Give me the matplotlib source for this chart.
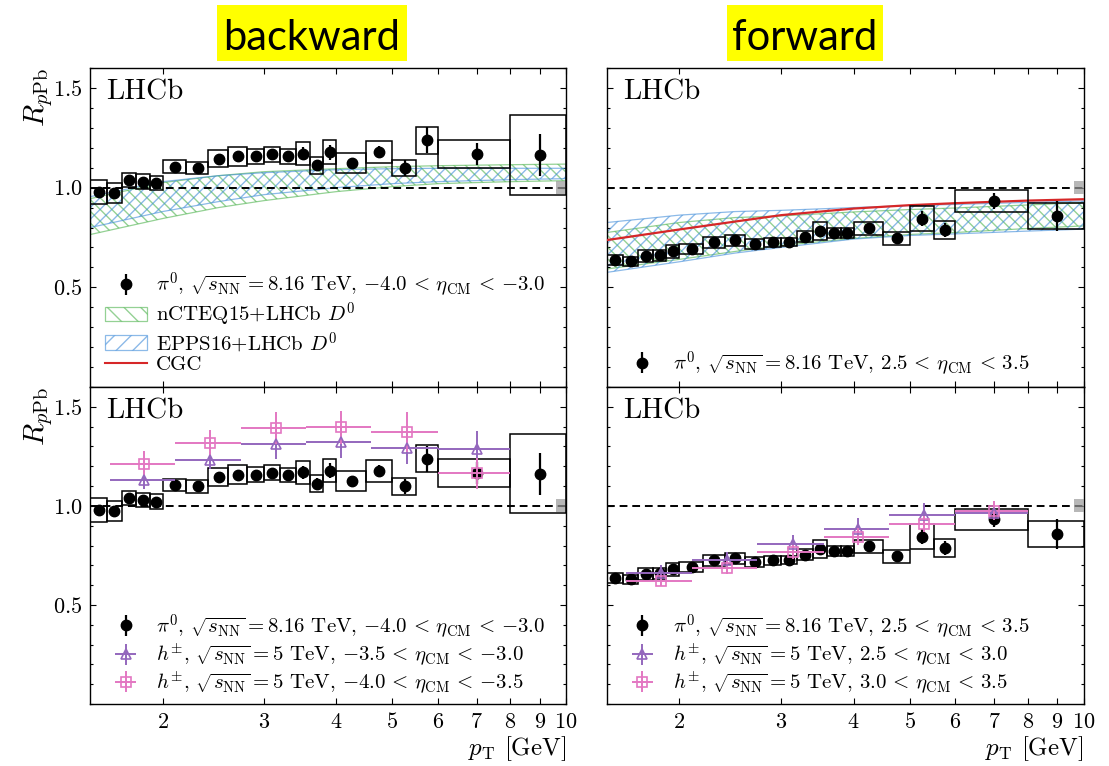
import matplotlib
matplotlib.use("Agg")
import matplotlib.pyplot as plt
from matplotlib.patches import Rectangle, Patch
from matplotlib.lines import Line2D
from matplotlib.collections import LineCollection
from matplotlib.transforms import IdentityTransform
import numpy as np

plt.rcParams['mathtext.fontset'] = 'cm'
plt.rcParams['font.family'] = ['cmr10', 'DejaVu Serif']
plt.rcParams['axes.unicode_minus'] = False
plt.rcParams['axes.formatter.use_mathtext'] = True

# ---------------- data ----------------
edges = [1.5, 1.6, 1.7, 1.8, 1.9, 2.0, 2.2, 2.4, 2.6, 2.8, 3.0, 3.2, 3.4, 3.6, 3.8,
         4.0, 4.5, 5.0, 5.5, 6.0, 8.0, 10.0]
pt = [1.55, 1.65, 1.75, 1.85, 1.95, 2.1, 2.3, 2.5, 2.7, 2.9, 3.1, 3.3, 3.5, 3.7, 3.9,
      4.25, 4.75, 5.25, 5.75, 7.0, 9.0]

bwd_val = [0.98, 0.975, 1.038, 1.03, 1.022, 1.105, 1.098, 1.145, 1.158, 1.158, 1.167,
           1.157, 1.17, 1.112, 1.178, 1.125, 1.178, 1.098, 1.237, 1.167, 1.162]
bwd_stat = [0.01, 0.01, 0.01, 0.01, 0.01, 0.01, 0.01, 0.01, 0.012, 0.012, 0.015,
            0.022, 0.032, 0.028, 0.038, 0.025, 0.03, 0.04, 0.065, 0.055, 0.105]
bwd_syst = [0.06, 0.05, 0.035, 0.036, 0.036, 0.032, 0.031, 0.044, 0.047, 0.037, 0.038,
            0.036, 0.058, 0.042, 0.06, 0.05, 0.056, 0.042, 0.068, 0.07, 0.2]

fwd_val = [0.635, 0.63, 0.657, 0.66, 0.68, 0.693, 0.725, 0.735, 0.717, 0.725, 0.727,
           0.753, 0.783, 0.773, 0.773, 0.797, 0.745, 0.845, 0.787, 0.932, 0.858]
fwd_stat = [0.008, 0.008, 0.008, 0.008, 0.008, 0.008, 0.008, 0.008, 0.008, 0.008, 0.01,
            0.01, 0.012, 0.012, 0.012, 0.015, 0.02, 0.038, 0.035, 0.04, 0.075]
fwd_syst = [0.025, 0.023, 0.031, 0.027, 0.034, 0.025, 0.029, 0.029, 0.025, 0.023, 0.021,
            0.027, 0.047, 0.026, 0.026, 0.033, 0.033, 0.063, 0.044, 0.054, 0.065]

norm_unc = 0.033
norm_x0 = 9.6

# charged hadrons (5 TeV)
h_edges = [1.62, 2.1, 2.73, 3.55, 4.6, 6.0, 8.0]
h_pt = [1.86, 2.415, 3.14, 4.075, 5.3, 7.0]
hb1_val = [1.131, 1.229, 1.311, 1.32, 1.291, 1.288]   # -3.5 < eta < -3.0
hb1_err = [0.046, 0.045, 0.076, 0.078, 0.08, 0.088]
hb2_val = [1.212, 1.316, 1.392, 1.397, 1.372, 1.165]  # -4.0 < eta < -3.5
hb2_err = [0.063, 0.069, 0.082, 0.084, 0.10, 0.078]
hf1_val = [0.663, 0.727, 0.806, 0.882, 0.956, 0.966]  # 2.5 < eta < 3.0
hf1_err = [0.038, 0.04, 0.046, 0.055, 0.057, 0.03]
hf2_val = [0.62, 0.689, 0.768, 0.845, 0.909, 0.976]   # 3.0 < eta < 3.5
hf2_err = [0.025, 0.031, 0.034, 0.042, 0.042, 0.049]

# theory bands
th_pt = [1.5, 2.0, 2.5, 3.0, 4.0, 5.0, 6.0, 8.0, 10.0]
bwd_ncteq_lo = [0.765, 0.845, 0.9, 0.935, 0.98, 1.005, 1.02, 1.03, 1.035]
bwd_ncteq_hi = [0.945, 1.025, 1.06, 1.08, 1.095, 1.105, 1.11, 1.115, 1.118]
bwd_epps_lo = [0.80, 0.88, 0.93, 0.965, 1.0, 1.02, 1.03, 1.04, 1.045]
bwd_epps_hi = [0.955, 1.03, 1.06, 1.075, 1.09, 1.095, 1.097, 1.097, 1.097]
fwd_ncteq_lo = [0.592, 0.64, 0.68, 0.71, 0.745, 0.765, 0.775, 0.795, 0.808]
fwd_ncteq_hi = [0.775, 0.825, 0.85, 0.858, 0.878, 0.89, 0.898, 0.913, 0.925]
fwd_epps_lo = [0.575, 0.628, 0.672, 0.70, 0.742, 0.76, 0.768, 0.782, 0.792]
fwd_epps_hi = [0.825, 0.862, 0.88, 0.886, 0.90, 0.91, 0.916, 0.926, 0.933]
fwd_cgc = [0.737, 0.79, 0.83, 0.862, 0.895, 0.912, 0.922, 0.935, 0.942]

xticks = [2, 3, 4, 5, 6, 7, 8, 9, 10]
yticks = [0.5, 1.0, 1.5]

GREEN = (0.30, 0.70, 0.30, 0.6)
BLUE = (0.25, 0.55, 0.85, 0.6)
RED = '#d62728'
PURPLE = '#9467bd'
PINK = '#e377c2'

lbl_bwd = r'$\pi^0$, $\sqrt{s_{\rm NN}}=8.16$ TeV, ${-4.0}\,<\,\eta_{\rm CM}\,<\,{-3.0}$'
lbl_fwd = r'$\pi^0$, $\sqrt{s_{\rm NN}}=8.16$ TeV, $2.5\,<\,\eta_{\rm CM}\,<\,3.5$'
lbl_hb1 = r'$h^{\pm}$, $\sqrt{s_{\rm NN}}=5$ TeV, ${-3.5}\,<\,\eta_{\rm CM}\,<\,{-3.0}$'
lbl_hb2 = r'$h^{\pm}$, $\sqrt{s_{\rm NN}}=5$ TeV, ${-4.0}\,<\,\eta_{\rm CM}\,<\,{-3.5}$'
lbl_hf1 = r'$h^{\pm}$, $\sqrt{s_{\rm NN}}=5$ TeV, $2.5\,<\,\eta_{\rm CM}\,<\,3.0$'
lbl_hf2 = r'$h^{\pm}$, $\sqrt{s_{\rm NN}}=5$ TeV, $3.0\,<\,\eta_{\rm CM}\,<\,3.5$'

fig = plt.figure(figsize=(11.09, 7.66), dpi=100)
axes = {
    'tl': fig.add_axes([0.0816, 0.4948, 0.4288, 0.4164]),
    'tr': fig.add_axes([0.5473, 0.4948, 0.4300, 0.4164]),
    'bl': fig.add_axes([0.0816, 0.0809, 0.4288, 0.4139]),
    'br': fig.add_axes([0.5473, 0.0809, 0.4300, 0.4139]),
}

FS = 15


def style(ax, left, bottom):
    ax.set_xscale('log')
    ax.set_xlim(1.5, 10)
    ax.set_ylim(0, 1.6)
    ax.set_xticks(xticks)
    ax.xaxis.set_minor_locator(matplotlib.ticker.NullLocator())
    ax.set_yticks(yticks)
    ax.yaxis.set_minor_locator(matplotlib.ticker.MultipleLocator(0.1))
    if bottom:
        ax.set_xticklabels(['$%d$' % t for t in xticks], fontsize=16)
        ax.set_xlabel(r'$p_{\rm T}$ [GeV]', fontsize=18, loc='right', labelpad=1)
    else:
        ax.set_xticklabels([])
    if left:
        ax.set_yticklabels(['$%.1f$' % t for t in yticks], fontsize=16)
        ax.set_ylabel(r'$R_{p{\rm Pb}}$', fontsize=21, loc='top', labelpad=-2)
    else:
        ax.set_yticklabels([])
    ax.tick_params(which='both', direction='in', top=True, right=True)
    ax.tick_params(which='major', length=4.5, width=0.8, pad=6)
    ax.tick_params(which='minor', length=2.5, width=0.8)
    for s in ax.spines.values():
        s.set_linewidth(1.0)
    ax.axhline(1.0, color='k', ls='--', lw=1.4, dashes=(4, 2.5), zorder=3)
    ax.add_patch(Rectangle((norm_x0, 1 - norm_unc), 10 - norm_x0, 2 * norm_unc,
                           facecolor='0.6', edgecolor='none', alpha=0.7, zorder=4))
    ax.text(0.033, 0.965, 'LHCb', transform=ax.transAxes, fontsize=21,
            ha='left', va='top')


def pi0(ax, val, stat, syst):
    for i in range(len(val)):
        ax.add_patch(Rectangle((edges[i], val[i] - syst[i]), edges[i + 1] - edges[i],
                               2 * syst[i], facecolor='none', edgecolor='k',
                               lw=1.1, zorder=5))
    return ax.errorbar(pt, val, yerr=stat, fmt='o', color='k', ms=7.5,
                       elinewidth=1.6, capsize=0, zorder=6)


def hatched(ax, lo, hi, color, direction, spacing=11.7):
    poly = ax.fill_between(th_pt, lo, hi, facecolor='none', edgecolor=color,
                           lw=0.9, zorder=2)
    x0, y0, x1, y1 = ax.bbox.extents
    segs = []
    if direction == '/':
        c = y0 - x1
        while c <= y1 - x0:
            segs.append([(x0, x0 + c), (x1, x1 + c)])
            c += spacing
    else:
        c = y0 + x0
        while c <= y1 + x1:
            segs.append([(x0, c - x0), (x1, c - x1)])
            c += spacing
    lc = LineCollection(segs, colors=[color], linewidths=1.0,
                        transform=IdentityTransform(), zorder=2)
    ax.add_collection(lc, autolim=False)
    lc.set_clip_path(poly.get_paths()[0], ax.transData)


def bands(ax, nlo, nhi, elo, ehi):
    hatched(ax, nlo, nhi, GREEN, '\\')
    hatched(ax, elo, ehi, BLUE, '/')


def hpm(ax, val, err, color, marker):
    xlo = [h_pt[i] - h_edges[i] for i in range(len(h_pt))]
    xhi = [h_edges[i + 1] - h_pt[i] for i in range(len(h_pt))]
    return ax.errorbar(h_pt, val, xerr=[xlo, xhi], yerr=err, fmt=marker, color=color,
                       mfc='none', mec=color, ms=7, mew=1.2, elinewidth=1.4,
                       capsize=0, zorder=7)


leg_kw = dict(frameon=False, fontsize=FS, loc='lower left', handlelength=2.0,
              handletextpad=0.45, labelspacing=0.05, borderaxespad=0.3)

# top-left
ax = axes['tl']
style(ax, True, False)
bands(ax, bwd_ncteq_lo, bwd_ncteq_hi, bwd_epps_lo, bwd_epps_hi)
h0 = pi0(ax, bwd_val, bwd_stat, bwd_syst)
hn = Patch(facecolor='none', edgecolor=GREEN, hatch='\\\\', lw=0.9)
he = Patch(facecolor='none', edgecolor=BLUE, hatch='//', lw=0.9)
hc = Line2D([], [], color=RED, lw=1.5)
ax.legend([h0, hn, he, hc],
          [lbl_bwd, r'nCTEQ15+LHCb $D^0$', r'EPPS16+LHCb $D^0$', 'CGC'],
          bbox_to_anchor=(0, -0.006), **leg_kw)

# top-right
ax = axes['tr']
style(ax, False, False)
bands(ax, fwd_ncteq_lo, fwd_ncteq_hi, fwd_epps_lo, fwd_epps_hi)
ax.plot(th_pt, fwd_cgc, color=RED, lw=1.6, zorder=3)
h0 = pi0(ax, fwd_val, fwd_stat, fwd_syst)
ax.legend([h0], [lbl_fwd], bbox_to_anchor=(0, -0.018), **leg_kw)

# bottom-left
ax = axes['bl']
style(ax, True, True)
h0 = pi0(ax, bwd_val, bwd_stat, bwd_syst)
h1 = hpm(ax, hb1_val, hb1_err, PURPLE, '^')
h2 = hpm(ax, hb2_val, hb2_err, PINK, 's')
ax.legend([h0, h1, h2], [lbl_bwd, lbl_hb1, lbl_hb2],
          bbox_to_anchor=(0, -0.021), **leg_kw)

# bottom-right
ax = axes['br']
style(ax, False, True)
h0 = pi0(ax, fwd_val, fwd_stat, fwd_syst)
h1 = hpm(ax, hf1_val, hf1_err, PURPLE, '^')
h2 = hpm(ax, hf2_val, hf2_err, PINK, 's')
ax.legend([h0, h1, h2], [lbl_fwd, lbl_hf1, lbl_hf2],
          bbox_to_anchor=(0, -0.021), **leg_kw)

# highlighted headings
W, H = 1109.0, 766.0
for text, x0, x1 in [('backward', 217, 407), ('forward', 727, 883)]:
    fig.patches.append(Rectangle((x0 / W, 1 - 61 / H), (x1 - x0) / W, 56 / H,
                                 transform=fig.transFigure, facecolor='#ffff00',
                                 edgecolor='none', zorder=0))
    fig.text((x0 + x1) / 2 / W, 1 - 50 / H, text, ha='center', va='baseline',
             fontsize=30, family='Lato')

fig.savefig('out.png', dpi=100)
